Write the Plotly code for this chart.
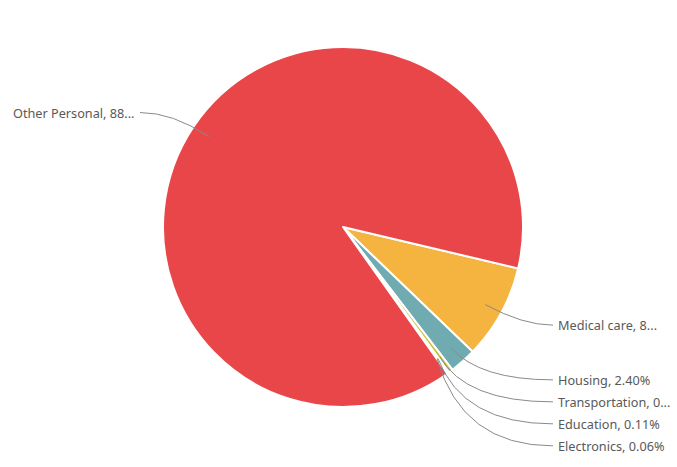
import math
import plotly.graph_objects as go

# ---- data ----
categories = ["Medical care", "Housing", "Transportation", "Education", "Electronics", "Other Personal"]
values = [8.50, 2.40, 0.40, 0.11, 0.06, 88.53]
colors = ["#F5B43F", "#6FABB0", "#C9C43B", "#9BC3A0", "#8E9BD6", "#E9464A"]

# ---- layout constants ----
W, H = 677, 467
CX, CY, R = 343, 227, 180
START = 103.3          # first slice start, degrees clockwise from 12 o'clock
R_IN, R_ELBOW = 0.9 * R, 205
RIGHT_END, LEFT_END = 553, 140
GAP = 22
MAX_CHARS = {"Medical care": 15, "Transportation": 17, "Other Personal": 18}
FONT = dict(family="Noto Sans, Open Sans, sans-serif", size=12.7, color="#595959")

fig = go.Figure()
fig.add_trace(go.Pie(
    labels=categories, values=values, sort=False, direction="clockwise",
    rotation=START, textinfo="none", hoverinfo="label+percent",
    marker=dict(colors=colors, line=dict(color="white", width=2)),
    domain=dict(x=[(CX - R) / W, (CX + R) / W], y=[1 - (CY + R) / H, 1 - (CY - R) / H]),
    showlegend=False,
))

total = sum(values)
acc = 0.0
items = []
for name, v in zip(categories, values):
    pct = v / total * 100
    mid = math.radians(START + (acc + v / 2) / total * 360)
    acc += v
    sx, sy = CX + R_IN * math.sin(mid), CY - R_IN * math.cos(mid)
    ex, ey = CX + R_ELBOW * math.sin(mid), CY - R_ELBOW * math.cos(mid)
    text = f"{name}, {pct:.2f}%"
    n = MAX_CHARS.get(name)
    if n is not None and len(text) > n:
        text = text[:n] + "..."
    items.append(dict(sx=sx, sy=sy, ex=ex, ey=ey, ly=ey, right=ex >= CX, text=text))

# resolve overlaps per side
for side in (True, False):
    grp = sorted([it for it in items if it["right"] == side], key=lambda it: it["ly"])
    for i in range(1, len(grp)):
        if grp[i]["ly"] < grp[i - 1]["ly"] + GAP:
            grp[i]["ly"] = grp[i - 1]["ly"] + GAP

def px(x):
    return x / W

def py(y):
    return 1 - y / H

shapes, annots = [], []
for it in items:
    endx = RIGHT_END if it["right"] else LEFT_END
    path = (f"M {px(it['sx'])},{py(it['sy'])} Q {px(it['ex'])},{py(it['ly'])} "
            f"{px(endx)},{py(it['ly'])}")
    shapes.append(dict(type="path", path=path, xref="paper", yref="paper",
                       line=dict(color="#8a8a8a", width=1), layer="above"))
    annots.append(dict(x=px(endx + (3 if it["right"] else -3)), y=py(it["ly"]),
                       xref="paper", yref="paper", text=it["text"], showarrow=False,
                       xanchor="left" if it["right"] else "right", yanchor="middle",
                       font=FONT))

fig.update_layout(
    width=W, height=H, margin=dict(l=0, r=0, t=0, b=0),
    paper_bgcolor="white", plot_bgcolor="white",
    shapes=shapes, annotations=annots, showlegend=False,
)
fig.write_html("out.html", config={"displayModeBar": False},
               post_script="document.body.style.margin='0';document.body.style.overflow='hidden';")
